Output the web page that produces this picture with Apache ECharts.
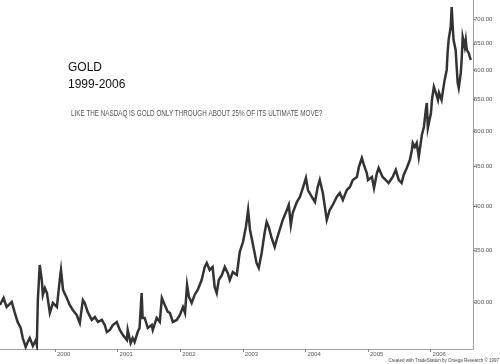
<!DOCTYPE html>
<html><head><meta charset="utf-8">
<script src="https://cdn.jsdelivr.net/npm/echarts@6/dist/echarts.min.js"></script>
<style>html,body{margin:0;padding:0;background:#fff}#c{width:500px;height:364px}</style>
</head><body><div id="c"></div>
<script>
const dates = [
'1999-02-14','1999-03-07','1999-03-25','1999-04-24','1999-05-10','1999-05-28','1999-06-15','1999-06-27','1999-07-14','1999-07-26',
'1999-08-07','1999-08-25','1999-09-11','1999-09-17','1999-09-23','1999-10-04','1999-10-16','1999-10-22','1999-11-03','1999-11-15',
'1999-12-02','1999-12-20','2000-01-12','2000-01-30','2000-02-05','2000-02-17','2000-03-10','2000-03-27','2000-04-14','2000-05-07',
'2000-05-25','2000-06-12','2000-06-23','2000-07-10','2000-08-03','2000-08-21','2000-09-08','2000-10-01','2000-10-18','2000-10-30',
'2000-11-17','2000-12-04','2000-12-27','2001-01-14','2001-02-01','2001-02-24','2001-03-01','2001-03-18','2001-03-30','2001-04-10',
'2001-04-28','2001-05-09','2001-05-21','2001-05-27','2001-06-08','2001-06-26','2001-07-19','2001-07-25','2001-08-17','2001-09-04',
'2001-09-16','2001-10-03','2001-10-21','2001-11-02','2001-11-19','2001-12-12','2001-12-30','2002-01-17','2002-01-29','2002-02-10',
'2002-02-21','2002-03-09','2002-03-26','2002-04-13','2002-05-06','2002-05-24','2002-06-05','2002-06-22','2002-07-09','2002-07-21',
'2002-08-02','2002-08-14','2002-09-01','2002-09-18','2002-10-05','2002-10-17','2002-11-04','2002-11-27','2002-12-03','2002-12-14',
'2003-01-02','2003-01-19','2003-02-01','2003-02-12','2003-02-24','2003-03-11','2003-03-22','2003-04-04','2003-04-21','2003-05-08',
'2003-05-20','2003-06-01','2003-06-18','2003-07-06','2003-07-17','2003-08-04','2003-08-22','2003-09-15','2003-09-26','2003-10-08',
'2003-10-19','2003-11-12','2003-11-30','2003-12-17','2004-01-04','2004-01-16','2004-02-08','2004-02-26','2004-03-13','2004-03-25',
'2004-04-12','2004-04-24','2004-05-05','2004-05-22','2004-06-09','2004-07-02','2004-07-20','2004-08-07','2004-08-30','2004-09-17',
'2004-10-04','2004-10-28','2004-11-09','2004-11-26','2004-12-08','2004-12-25','2005-01-01','2005-01-24','2005-02-05','2005-02-22',
'2005-03-04','2005-03-27','2005-04-14','2005-05-01','2005-05-25','2005-06-12','2005-06-29','2005-07-16','2005-07-28','2005-08-15',
'2005-09-02','2005-09-14','2005-09-19','2005-10-01','2005-10-12','2005-10-24','2005-11-11','2005-11-23','2005-12-04','2005-12-10',
'2005-12-16','2006-01-03','2006-01-09','2006-01-20','2006-02-01','2006-02-13','2006-02-19','2006-03-06','2006-03-12','2006-03-24',
'2006-04-05','2006-04-10','2006-04-16','2006-04-28','2006-05-04','2006-05-10','2006-05-15','2006-05-27','2006-06-02','2006-06-08',
'2006-06-14','2006-06-26','2006-07-01','2006-07-07','2006-07-19','2006-07-25','2006-07-31','2006-08-11','2006-08-23'
];
const prices = [
297.3,303.6,295.5,300.0,291.2,282.6,277.5,269.3,262.2,266.1,
269.3,263.0,267.7,263.8,301.8,335.1,320.4,306.4,312.8,308.2,
290.3,299.1,295.5,322.4,330.2,311.0,303.6,297.3,292.9,288.5,
281.7,301.8,299.1,291.2,284.3,286.8,282.6,284.3,280.0,274.2,
275.9,280.0,282.6,275.9,271.8,267.7,275.9,265.3,269.3,266.1,
274.2,277.5,308.2,286.0,286.0,277.5,280.0,275.9,286.0,282.6,
303.6,297.3,291.2,290.3,282.6,284.3,288.5,295.5,290.3,315.7,
304.5,299.1,306.4,311.0,320.4,333.1,337.2,330.2,333.1,313.8,
308.2,320.4,325.3,333.1,327.2,320.4,328.2,325.3,333.1,348.4,
359.0,375.5,395.1,372.2,361.2,347.4,337.2,332.2,347.4,368.8,
381.2,375.5,363.4,353.7,361.2,372.2,383.5,395.1,401.1,377.8,
391.6,404.7,410.8,422.0,434.9,419.5,410.8,404.7,423.3,432.3,
415.8,398.7,383.5,395.1,401.1,410.8,415.8,407.2,419.5,423.3,
432.3,436.2,449.5,461.7,452.2,441.4,432.3,436.2,422.0,441.4,
448.1,436.2,432.3,428.4,436.2,445.4,432.3,428.4,438.8,448.1,
458.9,472.9,482.9,477.2,482.9,463.1,494.6,506.6,533.1,544.4,
505.1,528.3,549.3,571.2,561.0,549.3,561.0,549.3,561.0,583.3,
601.0,632.4,657.3,683.4,725.5,683.4,657.3,638.1,606.4,578.1,
569.5,595.6,619.1,663.3,643.7,657.3,638.1,632.4,619.1
];
const yearTicks = [2000, 2001, 2002, 2003, 2004, 2005, 2006];
const priceTicks = [300, 350, 400, 450, 500, 550, 600, 650, 700];
const titleText = 'GOLD';
const periodText = '1999-2006';
const noteText = 'LIKE THE NASDAQ IS GOLD ONLY THROUGH ABOUT 25% OF ITS ULTIMATE MOVE?';
const footerText = 'Created with TradeStation by Omega Research \u00A9 1997';

function toYear(s) {
  const p = s.split('-').map(Number);
  const a = Date.UTC(p[0], 0, 1), b = Date.UTC(p[0] + 1, 0, 1);
  return p[0] + (Date.UTC(p[0], p[1] - 1, p[2]) - a) / (b - a);
}
const seriesData = dates.map((d, i) => [toYear(d), prices[i]]);

const chart = echarts.init(document.getElementById('c'), null, {renderer: 'canvas'});
const F = '"Liberation Sans", Arial, sans-serif';
chart.setOption({
  animation: false,
  backgroundColor: '#fff',
  grid: {left: 0, right: 27, top: 0, bottom: 15, containLabel: false},
  xAxis: {
    type: 'value', min: 1999.1214, max: 2006.6773,
    axisLine: {show: true, lineStyle: {color: '#a0a0a0', width: 1}},
    axisTick: {show: true, customValues: yearTicks, length: 3, lineStyle: {color: '#808080'}},
    axisLabel: {customValues: yearTicks, fontSize: 6, fontFamily: F, color: '#555', align: 'left', margin: 2,
      padding: [0, 0, 0, 2], formatter: v => String(v)},
    splitLine: {show: false}
  },
  yAxis: {
    type: 'log', position: 'right', min: 260.6, max: 741,
    axisLine: {show: true, lineStyle: {color: '#a0a0a0', width: 1}},
    axisTick: {show: true, customValues: priceTicks, length: 2, lineStyle: {color: '#808080'}},
    axisLabel: {customValues: priceTicks, fontSize: 6, fontFamily: F, color: '#555', margin: 1,
      formatter: v => Number(v).toFixed(2)},
    splitLine: {show: false}
  },
  series: [{
    type: 'line', data: seriesData, showSymbol: false, symbol: 'none',
    lineStyle: {color: '#333333', width: 2.5, join: 'miter'}, silent: true
  }],
  graphic: [
    {type: 'text', x: 68, y: 68, style: {text: titleText, font: '12px ' + F, fill: '#111', verticalAlign: 'middle'}},
    {type: 'text', x: 68, y: 85, style: {text: periodText, font: '12px ' + F, fill: '#111', verticalAlign: 'middle'}},
    {type: 'text', x: 71, y: 113.5, scaleX: 0.7, style: {text: noteText, font: '9px ' + F, fill: '#555', verticalAlign: 'middle'}},
    {type: 'text', x: 499, y: 361, style: {text: footerText, font: '4.5px ' + F, fill: '#444', align: 'right', verticalAlign: 'middle'}}
  ]
});
</script>
</body></html>
